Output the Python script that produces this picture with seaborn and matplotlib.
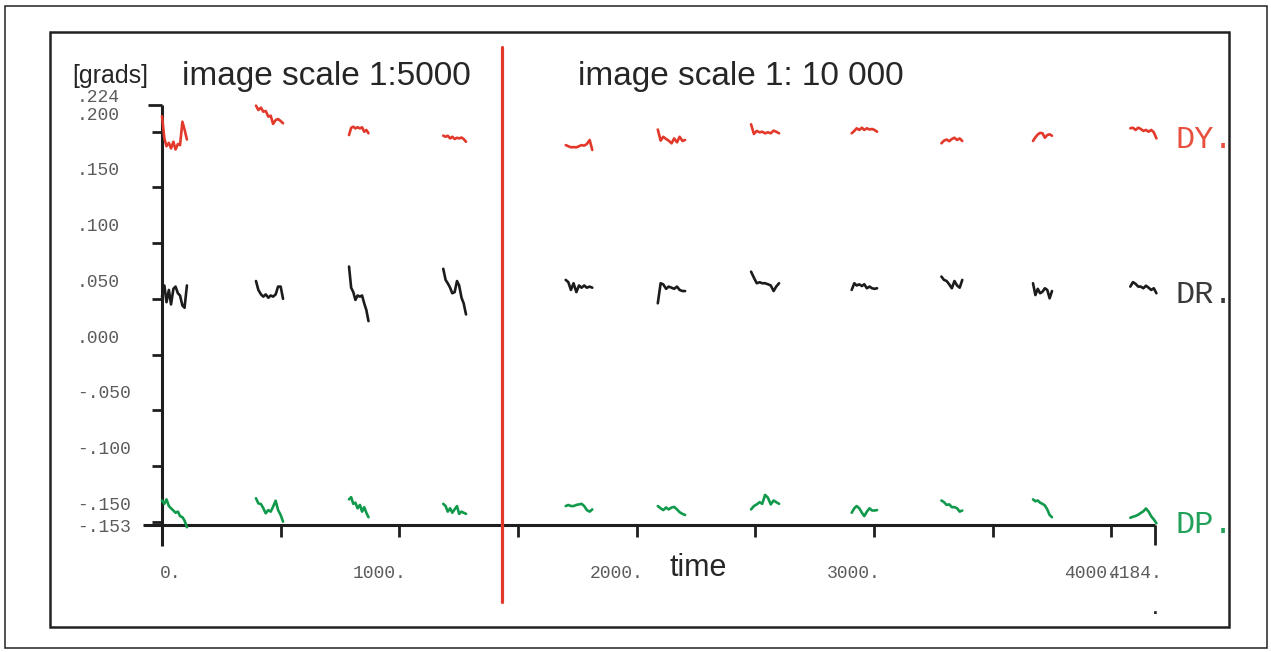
import matplotlib
matplotlib.use('Agg')
import pandas as pd
import matplotlib.pyplot as plt
import matplotlib.transforms as mtransforms
from matplotlib.patches import Rectangle
import seaborn as sns

# sample times of the eleven image strips (same for all three angles)
strip_times = [
    [0, 10, 19, 29, 38, 48, 57, 67, 76, 86, 95, 105],
    [396, 406, 417, 427, 437, 448, 458, 468, 479, 489, 500, 510],
    [788, 797, 806, 815, 824, 834, 843, 852, 861, 870],
    [1185, 1195, 1204, 1214, 1223, 1233, 1243, 1252, 1262, 1271, 1281],
    [1701, 1712, 1723, 1734, 1746, 1757, 1768, 1779, 1790, 1802, 1813],
    [2089, 2101, 2112, 2124, 2135, 2147, 2158, 2170, 2181, 2193, 2204],
    [2482, 2494, 2506, 2518, 2529, 2541, 2553, 2565, 2577, 2588, 2600],
    [2906, 2917, 2927, 2938, 2949, 2959, 2970, 2981, 2992, 3002, 3013],
    [3284, 3295, 3306, 3317, 3328, 3339, 3350, 3361, 3372],
    [3670, 3680, 3690, 3700, 3710, 3720, 3730, 3740, 3750],
    [4080, 4091, 4102, 4113, 4124, 4135, 4146, 4157, 4168, 4179, 4190],
]

dy_values = [
    [0.214, 0.194, 0.187, 0.190, 0.185, 0.191, 0.184, 0.189, 0.188, 0.209, 0.202, 0.193],
    [0.2234, 0.2195, 0.2216, 0.218, 0.2186, 0.2135, 0.2144, 0.207, 0.2105, 0.2114, 0.2096, 0.2076],
    [0.197, 0.2035, 0.2045, 0.203, 0.204, 0.203, 0.204, 0.200, 0.2016, 0.1986],
    [0.1965, 0.1955, 0.1964, 0.194, 0.1955, 0.1935, 0.1946, 0.194, 0.1948, 0.1935, 0.191],
    [0.188, 0.187, 0.186, 0.1862, 0.186, 0.187, 0.188, 0.1875, 0.189, 0.1926, 0.1836],
    [0.202, 0.192, 0.1955, 0.1935, 0.192, 0.1896, 0.194, 0.1905, 0.1955, 0.1917, 0.1926],
    [0.2067, 0.198, 0.2007, 0.1995, 0.200, 0.1986, 0.1995, 0.1986, 0.201, 0.200, 0.1986],
    [0.1986, 0.2007, 0.2031, 0.2016, 0.2036, 0.2016, 0.2031, 0.202, 0.2025, 0.2016, 0.200],
    [0.1896, 0.192, 0.193, 0.1915, 0.1935, 0.1946, 0.1926, 0.194, 0.1917],
    [0.1917, 0.195, 0.1975, 0.199, 0.1986, 0.1946, 0.197, 0.1977, 0.1964],
    [0.2031, 0.2036, 0.2016, 0.2036, 0.2025, 0.2007, 0.2016, 0.200, 0.2016, 0.1995, 0.194],
]

dr_values = [
    [0.052, 0.062, 0.047, 0.058, 0.045, 0.059, 0.061, 0.055, 0.053, 0.044, 0.042, 0.062],
    [0.066, 0.058, 0.054, 0.052, 0.054, 0.051, 0.053, 0.052, 0.054, 0.061, 0.061, 0.050],
    [0.079, 0.060, 0.056, 0.049, 0.053, 0.052, 0.053, 0.046, 0.040, 0.030],
    [0.077, 0.067, 0.064, 0.060, 0.055, 0.056, 0.066, 0.062, 0.051, 0.046, 0.036],
    [0.067, 0.065, 0.058, 0.064, 0.056, 0.062, 0.060, 0.062, 0.060, 0.061, 0.060],
    [0.046, 0.064, 0.063, 0.059, 0.061, 0.060, 0.059, 0.061, 0.058, 0.057, 0.057],
    [0.0744, 0.069, 0.064, 0.0649, 0.064, 0.064, 0.0631, 0.062, 0.057, 0.061, 0.064],
    [0.058, 0.064, 0.062, 0.063, 0.0615, 0.0631, 0.0595, 0.061, 0.0595, 0.059, 0.0595],
    [0.070, 0.067, 0.066, 0.063, 0.0595, 0.066, 0.062, 0.060, 0.067],
    [0.064, 0.0534, 0.059, 0.055, 0.0564, 0.0595, 0.058, 0.0505, 0.057],
    [0.061, 0.065, 0.0635, 0.061, 0.061, 0.0595, 0.0618, 0.060, 0.058, 0.0595, 0.055],
]

dp_values = [
    [-0.131, -0.134, -0.130, -0.136, -0.138, -0.140, -0.142, -0.141, -0.145, -0.146, -0.149, -0.155],
    [-0.129, -0.1336, -0.1342, -0.138, -0.1425, -0.1396, -0.141, -0.1366, -0.1312, -0.1396, -0.144, -0.150],
    [-0.130, -0.128, -0.134, -0.133, -0.138, -0.135, -0.141, -0.137, -0.142, -0.146],
    [-0.134, -0.136, -0.141, -0.138, -0.142, -0.139, -0.136, -0.143, -0.141, -0.142, -0.143],
    [-0.136, -0.135, -0.136, -0.136, -0.135, -0.1345, -0.134, -0.136, -0.1396, -0.141, -0.139],
    [-0.136, -0.138, -0.1396, -0.1373, -0.139, -0.1373, -0.1368, -0.139, -0.1415, -0.143, -0.144],
    [-0.139, -0.136, -0.1345, -0.1325, -0.134, -0.126, -0.1285, -0.1345, -0.131, -0.1325, -0.134],
    [-0.142, -0.138, -0.136, -0.138, -0.142, -0.145, -0.141, -0.138, -0.140, -0.140, -0.1396],
    [-0.131, -0.1325, -0.135, -0.1345, -0.137, -0.137, -0.138, -0.141, -0.140],
    [-0.130, -0.1317, -0.131, -0.133, -0.134, -0.1355, -0.139, -0.144, -0.146],
    [-0.1465, -0.1456, -0.1449, -0.1438, -0.1422, -0.1407, -0.1382, -0.141, -0.1452, -0.148, -0.1514],
]

series_names = ['DY', 'DR', 'DP']
series_colors = ['#e2392b', '#1c1c1c', '#11994c']
name_colors = ['#e8503f', '#3a3a3a', '#23a05a']

y_ticks = [0.224, 0.200, 0.150, 0.100, 0.050, 0.000, -0.050, -0.100, -0.150, -0.153]
y_tick_labels = ['.224', '.200', '.150', '.100', '.050', '.000', '-.050', '-.100', '-.150', '-.153']
x_ticks = [500, 1000, 1500, 2000, 2500, 3000, 3500, 4000]
x_label_ticks = [0, 1000, 2000, 3000, 4000, 4184]
x_tick_labels = ['0.', '1000.', '2000.', '3000.', '4000.', '4184.']
t_end = 4184
y_min, y_max = -0.153, 0.224
split_time = 1433  # change of image scale

rows = []
for name, values in zip(series_names, [dy_values, dr_values, dp_values]):
    for strip, (ts, vs) in enumerate(zip(strip_times, values)):
        for t, v in zip(ts, vs):
            rows.append({'time': t, 'value': v, 'series': name, 'strip': strip})
df = pd.DataFrame(rows)

sns.set_theme(style='white')
plt.rcParams['font.family'] = ['Liberation Sans', 'DejaVu Sans']

W, H = 1271, 652
fig = plt.figure(figsize=(W / 100, H / 100), dpi=100)
ax = fig.add_axes([162 / W, 1 - 525 / H, (1155 - 162) / W, (525 - 105) / H])
ax.set_facecolor('none')


def px(dx, dy):
    return mtransforms.ScaledTranslation(dx / 100, dy / 100, fig.dpi_scale_trans)


sns.lineplot(data=df, x='time', y='value', hue='series', units='strip', estimator=None,
             palette=dict(zip(series_names, series_colors)), legend=False,
             linewidth=1.9, ax=ax)
for line in ax.lines:
    line.set_clip_on(False)
    line.set_zorder(4)

ax.set_xlim(0, t_end)
ax.set_ylim(y_min, y_max)
ax.set_xlabel('')
ax.set_ylabel('')
for s in ax.spines.values():
    s.set_visible(False)

axis_col = '#1e1e1e'
# axis lines (left one runs below the time axis, bottom one starts at the -.153 tick)
ax.plot([0, 0], [-21 / 420, 1], transform=ax.transAxes, color=axis_col, lw=2.2,
        clip_on=False, solid_capstyle='butt', zorder=2)
ax.plot([-19 / 993, 1], [0, 0], transform=ax.transAxes, color=axis_col, lw=2.2,
        clip_on=False, solid_capstyle='butt', zorder=2)

ax.set_yticks(y_ticks[1:-1])
ax.set_yticks([y_max], minor=True)
ax.set_xticks(x_ticks)
ax.set_xticks([t_end], minor=True)
ax.tick_params(axis='y', which='major', direction='out', length=7.2, width=2.0,
               color=axis_col, left=True, labelleft=False)
ax.tick_params(axis='y', which='minor', direction='out', length=10, width=2.0,
               color=axis_col, left=True, labelleft=False)
ax.tick_params(axis='x', which='major', direction='out', length=8.6, width=2.0,
               color=axis_col, bottom=True, labelbottom=False)
ax.tick_params(axis='x', which='minor', direction='out', length=14.4, width=2.0,
               color=axis_col, bottom=True, labelbottom=False)

mono = 'Liberation Mono'
label_col = '#5c5c5c'
trans_y = mtransforms.blended_transform_factory(ax.transAxes, ax.transData)
for v, lab in zip(y_ticks, y_tick_labels):
    dy = 8 if v == y_max else (-3 if v == y_min else 16.5)
    ax.text((77 - 162) / 993, v, lab, transform=trans_y + px(0, dy), ha='left',
            va='center', family=mono, fontsize=13, color=label_col)

trans_x = ax.get_xaxis_transform()
for t, lab in zip(x_label_ticks, x_tick_labels):
    dx = 9 if t == 0 else -20
    ax.text(t, -48 / 420, lab, transform=trans_x + px(dx, 0), ha='center',
            va='center', family=mono, fontsize=13, color=label_col)
ax.text(t_end, -89 / 420, '.', transform=trans_x, ha='center', va='baseline',
        family=mono, fontsize=13, fontweight='bold', color=axis_col)

# series names at the end of each curve
for name, color, values in zip(series_names, name_colors, [dy_values, dr_values, dp_values]):
    ax.text(1 + 20 / 993, values[-1][-1], name + '.', transform=trans_y + px(0, -2),
            ha='left', va='center', family=mono, fontsize=23, color=color)

ax.axvline(split_time, ymin=(525 - 602) / 420, ymax=(525 - 47) / 420,
           color=series_colors[0], lw=2.3, clip_on=False, zorder=5)

fig.text(72 / W, 1 - 76 / H, '[grads]', fontsize=18, ha='left', va='center')
fig.text(182 / W, 1 - 77 / H, 'image scale 1:5000', fontsize=24, ha='left', va='center')
fig.text(578 / W, 1 - 77 / H, 'image scale 1: 10 000', fontsize=24, ha='left', va='center')
fig.text(669 / W, 1 - 568 / H, 'time', fontsize=22, ha='left', va='center')

fig.add_artist(Rectangle((5 / W, 1 - 648 / H), (1267 - 5) / W, (648 - 6) / H,
                         transform=fig.transFigure, fill=False, lw=1.1, ec='#222222'))
fig.add_artist(Rectangle((50 / W, 1 - 627 / H), (1229 - 50) / W, (627 - 32) / H,
                         transform=fig.transFigure, fill=False, lw=1.8, ec='#222222'))

fig.savefig('out.png', dpi=100)
plt.close(fig)
